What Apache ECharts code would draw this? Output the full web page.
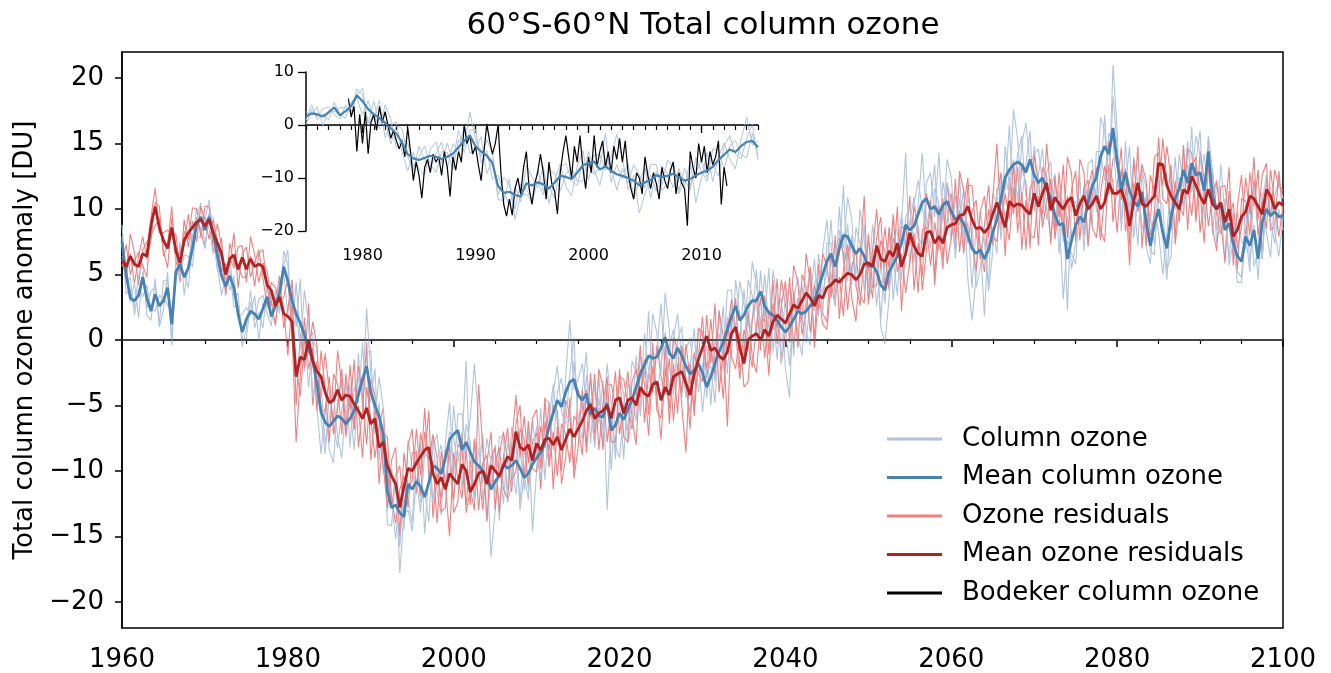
<!DOCTYPE html>
<html>
<head>
<meta charset="utf-8">
<title>60°S-60°N Total column ozone</title>
<script src="https://cdn.jsdelivr.net/npm/echarts@6/dist/echarts.min.js"></script>
<style>
  html, body { margin: 0; padding: 0; background: #fff; }
  #chart { width: 1331px; height: 673px; }
</style>
</head>
<body>
<div id="chart"></div>
<script>
// half-yearly values, 1960.0 ... 2100.0
const startYear = 1960;
const step = 0.5;

const meanColumnOzone = [
  7.5, 5.0, 3.2, 3.0, 3.4, 4.8, 3.2, 2.2, 3.5, 2.6,
  3.0, 4.0, 1.2, 5.2, 5.8, 4.8, 5.5, 7.0, 8.8, 9.4,
  8.4, 9.4, 8.2, 6.5, 4.9, 4.1, 4.9, 4.0, 2.0, 0.6,
  1.6, 2.2, 2.0, 1.6, 2.4, 3.3, 1.8, 2.6, 3.6, 5.6,
  4.5, 3.0, 2.0, 1.3, 0.4, -0.6, -1.6, -3.3, -5.5, -6.3,
  -6.6, -6.2, -5.8, -6.0, -6.4, -6.0, -5.4, -4.2, -3.0, -2.0,
  -4.0, -5.0, -5.8, -7.2, -11.5, -12.8, -12.6, -13.2, -13.5, -11.0,
  -11.4, -10.8, -11.2, -12.0, -10.9, -9.6, -9.8, -10.2, -9.0, -7.6,
  -7.2, -6.9, -8.4, -7.8, -8.6, -9.3, -9.6, -10.0, -10.5, -11.4,
  -10.8, -10.4, -9.5, -9.8, -9.6, -9.2, -9.8, -10.5, -10.2, -9.5,
  -9.0, -8.6, -7.9, -6.6, -5.6, -4.6, -5.1, -4.0, -3.2, -3.0,
  -4.2, -4.6, -4.1, -5.7, -5.2, -5.8, -5.9, -4.8, -6.9, -6.5,
  -5.6, -6.1, -5.3, -4.6, -3.6, -2.6, -1.9, -1.2, -1.4, -1.3,
  -0.6, 0.2, -1.0, -1.4, -0.6, -1.2, -2.0, -2.6, -2.3, -1.8,
  -2.5, -3.6, -2.8, -1.8, -0.9, -0.2, 0.8, 1.8, 2.6, 1.5,
  1.9, 2.6, 3.0, 3.0, 3.7, 2.6, 2.1, 1.9, 1.5, 1.0,
  0.6, 1.0, 1.6, 2.2, 2.0, 2.2, 2.6, 3.0, 4.0, 5.0,
  6.0, 6.6, 5.6, 7.0, 8.0, 7.9, 7.2, 6.6, 7.0, 6.4,
  5.6, 5.8, 5.2, 4.2, 3.8, 5.2, 5.8, 6.4, 7.4, 8.8,
  8.4, 8.7, 9.6, 10.5, 10.8, 10.0, 10.2, 9.6, 10.3, 10.6,
  9.8, 9.2, 9.4, 8.9, 8.0, 7.0, 6.6, 6.9, 6.2, 6.9,
  8.2, 9.2, 10.8, 12.4, 13.0, 13.4, 13.6, 13.4, 12.8, 13.8,
  12.6, 12.0, 12.4, 11.6, 10.8, 9.5, 8.8, 8.9, 6.2, 7.6,
  8.8, 9.4, 9.0, 10.5, 11.8, 12.4, 14.0, 14.8, 14.2, 16.2,
  13.6, 11.5, 12.8, 11.4, 10.6, 10.2, 11.3, 9.0, 7.2, 8.9,
  10.0, 8.2, 7.0, 9.4, 10.8, 11.6, 13.0, 12.0, 13.5, 12.6,
  12.8, 11.4, 14.4, 11.0, 10.0, 10.4, 8.4, 8.9, 7.4, 6.4,
  6.0, 7.9, 7.2, 8.4, 6.2, 9.0, 10.0, 9.5, 9.8, 9.4,
  9.5
];

const columnOzone1 = [
  8.8, 4.3, 4.8, 1.9, 3.9, 3.3, 4.2, 2.4, 2.2, 3.4,
  3.2, 2.7, 2.0, 4.7, 7.5, 3.4, 5.8, 8.1, 7.9, 7.8,
  9.5, 8.5, 6.6, 7.1, 6.3, 3.7, 6.2, 3.3, 3.6, -0.5,
  0.9, 3.8, 0.9, 2.1, 0.9, 4.3, 2.0, 1.3, 4.4, 5.1,
  1.9, 4.6, 1.0, 4.7, -2.4, 0.0, 0.6, -5.1, -8.7, -5.1,
  -8.4, -9.4, -4.6, -3.2, -7.2, -3.4, -6.8, -1.0, -5.2, -1.0,
  -0.8, -7.2, -4.8, -10.2, -9.5, -12.4, -15.2, -11.6, -14.5, -7.6,
  -9.8, -11.8, -7.8, -14.8, -10.3, -7.4, -11.6, -13.4, -7.8, -4.8,
  -10.4, -5.7, -5.6, -8.6, -6.0, -1.8, -6.4, -12.2, -9.5, -16.6,
  -13.0, -9.4, -12.5, -7.8, -9.2, -11.8, -8.2, -11.5, -6.8, -14.6,
  -10.0, -5.2, -10.7, -6.0, -3.4, -6.4, -8.3, -2.8, 1.5, -3.8,
  -3.0, -1.8, -4.9, -3.1, -6.6, -2.6, -8.1, -3.8, -9.9, -4.5,
  -4.6, -9.1, -3.3, -4.2, -6.2, -1.0, -2.9, 2.2, -4.2, -0.7,
  2.8, -2.6, -0.4, 0.8, -2.4, -4.4, -0.8, 0.2, -3.1, 0.8,
  0.3, -4.4, -0.2, -3.2, 2.3, -2.4, 1.8, -1.2, 4.6, 1.9,
  -1.1, 4.6, 3.4, 0.4, 5.3, 1.6, 5.5, -0.9, 2.1, 3.2,
  -2.2, -4.4, 3.8, 0.4, -1.2, 3.4, 5.4, 2.2, 6.6, 3.6,
  5.2, 9.2, 4.2, 10.2, 5.8, 8.9, 4.2, 8.6, 7.4, 3.8,
  7.6, 6.2, 2.6, 5.8, 2.8, 8.6, 3.0, 7.0, 9.6, 7.0,
  9.0, 10.9, 7.8, 7.3, 12.0, 12.8, 9.4, 14.3, 8.9, 13.8,
  12.4, 7.8, 12.6, 6.7, 9.0, 4.0, 8.6, 7.3, 1.8, 8.5,
  8.6, 6.6, 12.4, 11.4, 16.4, 10.6, 14.2, 15.6, 11.0, 10.6,
  14.8, 10.2, 9.2, 12.8, 13.6, 8.7, 11.4, 7.5, 9.4, 5.4,
  7.4, 12.6, 6.8, 11.5, 8.8, 14.4, 14.4, 12.2, 15.8, 15.2,
  11.0, 13.1, 11.8, 14.8, 7.8, 10.8, 13.5, 7.2, 5.8, 10.1,
  8.2, 5.0, 8.2, 12.2, 10.0, 14.2, 11.6, 15.2, 11.3, 13.6,
  16.0, 9.2, 15.4, 8.0, 12.0, 10.8, 5.8, 10.5, 6.4, 9.8,
  7.6, 6.9, 10.6, 5.6, 6.8, 11.2, 8.2, 6.3, 11.0, 12.2,
  10.8
];

const columnOzone2 = [
  6.4, 5.9, 2.9, 4.4, 1.7, 5.2, 2.4, 3.7, 4.1, 1.3,
  4.5, 4.6, -0.1, 6.4, 5.2, 5.0, 4.0, 7.8, 10.1, 9.2,
  9.2, 10.7, 8.0, 5.3, 5.2, 5.7, 3.8, 4.9, 1.7, 2.0,
  2.5, 1.9, 3.4, -0.1, 2.8, 2.5, 3.3, 3.2, 2.3, 6.8,
  5.7, 0.4, 4.4, 0.1, 0.8, -3.6, 0.0, -0.7, -5.9, -8.7,
  -4.0, -6.6, -8.2, -5.4, -3.2, -8.2, -3.6, -4.8, -0.2, -5.4,
  -4.6, -2.2, -9.2, -6.4, -13.1, -9.8, -11.4, -15.8, -11.1, -12.2,
  -14.0, -8.4, -12.4, -11.6, -13.9, -8.0, -7.2, -10.6, -11.4, -7.0,
  -7.6, -9.3, -7.8, -1.6, -10.8, -7.5, -10.2, -7.2, -13.9, -10.6,
  -8.0, -13.8, -8.7, -11.4, -6.6, -8.0, -12.4, -8.1, -11.4, -9.1,
  -6.6, -9.8, -7.5, -9.6, -4.0, -2.0, -5.5, -6.4, -2.6, 0.2,
  -6.6, -4.0, -0.9, -7.9, -3.4, -6.4, -3.1, -13.0, -6.1, -8.1,
  -9.0, -5.3, -6.9, -1.6, -2.4, -5.2, 0.5, -2.4, -1.0, -4.3,
  -1.8, 0.6, -4.0, 0.2, 2.0, -1.6, -4.4, -2.0, 0.9, -4.0,
  -1.9, -0.4, -5.0, 0.0, -1.5, 2.6, -2.6, 2.6, 1.0, 4.5,
  2.7, 1.0, 6.0, 4.2, 1.1, 5.0, 0.9, 2.3, -1.5, 2.6,
  1.0, -2.0, 3.2, 4.8, 1.6, -0.2, 3.2, 6.2, 1.8, 6.8,
  9.2, 4.4, 7.4, 6.4, 11.8, 4.5, 8.0, 5.0, 10.0, 7.6,
  4.0, 8.8, 6.4, 1.6, 6.2, 4.0, 6.2, 3.4, 9.0, 14.3,
  5.4, 10.3, 12.2, 10.1, 8.4, 10.6, 13.4, 7.4, 12.1, 10.0,
  7.6, 11.0, 8.8, 11.7, 4.6, 1.5, 5.0, 9.9, 7.4, 4.3,
  11.2, 10.4, 8.2, 14.8, 11.8, 13.8, 10.6, 15.0, 16.6, 13.4,
  14.2, 14.6, 12.0, 9.2, 11.4, 12.7, 6.6, 10.7, 2.3, 10.4,
  10.6, 8.8, 11.8, 7.1, 12.6, 10.8, 17.0, 16.0, 11.6, 18.6,
  14.8, 8.9, 15.2, 10.2, 11.0, 7.2, 12.9, 11.6, 6.8, 6.5,
  12.6, 7.8, 4.6, 10.0, 14.0, 9.4, 14.8, 11.4, 16.3, 9.2,
  12.2, 14.2, 11.0, 11.8, 8.4, 13.4, 9.6, 6.3, 9.8, 5.2,
  4.8, 10.3, 6.0, 8.8, 4.6, 10.6, 12.6, 9.1, 7.4, 10.0,
  8.4
];

const columnOzone3 = [
  7.9, 3.5, 3.9, 2.5, 4.9, 5.8, 1.9, 1.5, 4.7, 1.0,
  2.3, 5.2, -0.4, 5.3, 4.8, 6.5, 6.4, 5.6, 9.1, 10.5,
  7.0, 9.7, 9.3, 5.7, 3.4, 4.8, 5.3, 2.5, 2.7, 0.1,
  0.1, 2.9, 1.5, 3.1, 3.4, 2.0, 1.1, 3.8, 2.0, 5.7,
  6.9, -0.2, 2.2, -0.7, 3.8, 1.2, -4.4, -2.7, -3.3, -7.9,
  -6.0, -4.0, -7.4, -9.0, -5.0, -5.2, -8.4, -2.8, -4.0, 2.4,
  -2.6, -6.0, -2.8, -5.2, -14.1, -14.2, -10.2, -17.8, -13.3, -13.0,
  -14.6, -10.6, -13.2, -8.6, -9.1, -12.4, -9.2, -8.0, -10.6, -10.6,
  -5.0, -8.5, -11.4, -6.4, -7.8, -12.3, -8.2, -11.0, -7.5, -9.4,
  -11.8, -7.4, -7.5, -12.4, -11.0, -6.8, -13.0, -10.3, -12.2, -6.1,
  -8.8, -10.6, -4.5, -4.8, -8.4, -4.0, -2.9, -5.6, -6.2, -1.6,
  -5.8, -7.6, -2.7, -4.9, -8.2, -4.4, -6.9, -1.8, -4.9, -9.1,
  -2.6, -4.1, -7.9, -6.0, -1.2, -5.8, -1.7, -3.2, 2.0, 0.5,
  -2.6, 3.6, 0.8, -4.2, 0.0, 1.0, -3.6, -5.6, -0.9, -1.0,
  -5.5, -2.2, -2.0, -4.8, 0.5, -1.2, 3.8, 3.8, 0.0, 0.1,
  3.9, 0.0, 1.6, 5.4, 0.5, 2.8, 0.1, 5.3, 3.3, -1.8,
  4.0, 2.8, -1.2, 2.8, 4.2, 0.6, -0.4, 4.4, 4.8, 2.0,
  7.4, 7.4, 2.6, 8.4, 7.0, 10.9, 9.2, 4.0, 5.6, 8.8,
  3.0, 4.4, 7.6, 1.0, -0.3, 3.2, 9.2, 8.2, 4.6, 9.4,
  10.2, 5.9, 10.2, 14.3, 9.2, 7.0, 11.6, 10.4, 7.3, 12.0,
  10.6, 6.2, 10.8, 7.9, 11.0, 9.0, 4.0, 5.5, 8.6, 3.7,
  6.8, 11.6, 7.6, 12.6, 11.0, 17.6, 15.4, 10.6, 13.4, 16.0,
  9.8, 12.6, 14.6, 10.0, 7.8, 10.9, 9.6, 3.1, 7.6, 6.6,
  5.8, 10.8, 8.0, 13.5, 13.8, 9.8, 12.6, 17.2, 11.0, 21.0,
  16.0, 8.3, 13.0, 9.4, 14.0, 12.0, 8.5, 9.6, 9.4, 7.3,
  10.6, 10.4, 5.4, 6.4, 12.2, 12.4, 10.0, 13.4, 12.5, 15.6,
  14.2, 10.4, 15.6, 13.0, 7.4, 9.0, 10.8, 5.7, 7.6, 4.4,
  4.4, 8.1, 5.2, 11.8, 8.0, 6.2, 10.6, 11.7, 8.2, 6.4,
  9.4
];

const meanResiduals = [
  6.1, 5.6, 6.4, 5.8, 5.6, 6.6, 6.4, 8.8, 10.2, 8.6,
  7.6, 7.0, 8.6, 6.8, 5.9, 7.6, 8.2, 8.6, 9.0, 9.2,
  8.7, 9.2, 8.2, 7.4, 6.6, 5.0, 6.2, 6.5, 5.4, 6.3,
  5.4, 6.2, 5.6, 5.8, 5.6, 4.2, 3.8, 2.6, 3.3, 2.0,
  1.8, 1.4, -2.8, -1.3, -1.5, 0.0, -1.6, -2.4, -2.8, -4.0,
  -4.8, -4.6, -3.8, -4.6, -4.2, -4.3, -4.9, -5.4, -6.0, -5.2,
  -6.4, -6.0, -8.2, -7.8, -9.6, -10.4, -11.0, -12.8, -11.2, -9.8,
  -10.0, -9.4, -8.9, -8.4, -8.2, -10.2, -11.0, -10.5, -11.4, -10.2,
  -10.6, -11.0, -9.5, -10.0, -11.6, -11.0, -10.2, -10.0, -11.0, -9.6,
  -10.0, -10.4, -9.6, -8.9, -9.2, -7.0, -8.2, -8.4, -8.0, -9.2,
  -7.9, -8.4, -7.6, -7.5, -8.0, -7.4, -8.4, -7.6, -6.8, -7.4,
  -6.8, -6.2, -5.4, -4.9, -6.0, -5.6, -5.4, -5.0, -6.0, -4.6,
  -4.4, -5.6, -4.6, -4.4, -5.0, -3.6, -4.1, -4.3, -3.4, -3.2,
  -4.6, -3.6, -4.2, -2.8, -2.6, -2.4, -3.3, -4.2, -2.6, -1.5,
  -0.6, 0.3, -0.8, -0.6, -1.2, -1.5, -0.9, 0.5, 1.0, -0.6,
  -1.8, 0.0, 0.3, 0.5, 0.0, 0.8, 0.3, 1.4, 1.9, 1.6,
  1.3, 2.0, 2.7, 2.4, 3.0, 3.6, 3.2, 2.6, 3.4, 3.2,
  4.0, 4.2, 4.6, 4.4, 4.8, 5.1, 5.0, 4.6, 5.0, 5.8,
  5.9, 5.6, 7.2, 6.2, 6.0, 6.8, 6.4, 7.4, 5.6, 6.6,
  8.2, 7.2, 6.6, 6.4, 8.2, 8.3, 7.4, 7.9, 7.4, 8.6,
  8.8, 8.9, 9.5, 9.6, 10.2, 9.2, 8.5, 8.6, 8.2, 8.6,
  9.6, 10.5, 9.6, 8.6, 10.6, 10.2, 10.4, 10.3, 9.9, 9.6,
  11.2, 10.2, 11.2, 12.0, 9.9, 10.9, 10.4, 10.0, 10.6, 10.9,
  9.5, 10.4, 11.0, 10.0, 10.4, 11.0, 10.0, 10.5, 12.0, 11.2,
  11.2, 11.5, 10.5, 8.7, 10.6, 12.0, 10.4, 10.2, 10.6, 11.0,
  13.5, 13.4, 11.8, 11.0, 10.5, 10.0, 11.5, 11.2, 12.5, 11.8,
  11.0, 10.4, 11.5, 10.4, 10.0, 10.5, 9.0, 10.0, 7.9, 8.4,
  9.4, 9.8, 11.0, 10.8, 10.2, 9.6, 11.5, 11.0, 10.0, 10.5,
  10.3
];

const residuals1 = [
  7.3, 5.0, 6.6, 4.3, 6.4, 7.9, 6.2, 7.6, 10.5, 10.2,
  6.4, 7.3, 10.2, 5.7, 6.8, 7.3, 9.6, 6.9, 9.4, 8.4,
  7.0, 9.6, 7.4, 8.9, 7.2, 3.7, 7.4, 5.9, 5.6, 4.8,
  4.8, 6.4, 4.1, 6.6, 6.9, 4.0, 2.6, 2.9, 4.9, 0.9,
  2.4, 4.6, -5.0, 0.5, -2.1, 2.8, -5.0, -1.6, -4.4, -1.0,
  -4.0, -6.2, -0.8, -3.4, -6.8, -1.9, -6.1, -5.0, -9.0, -3.6,
  -6.0, -9.0, -6.6, -5.2, -10.0, -12.8, -10.4, -9.6, -13.4, -8.0,
  -6.8, -11.6, -7.1, -9.0, -5.4, -13.6, -10.2, -12.1, -8.4, -9.0,
  -12.2, -8.0, -8.3, -12.6, -9.2, -12.2, -9.8, -13.0, -9.4, -7.0,
  -13.0, -8.8, -7.0, -9.3, -11.6, -6.4, -5.0, -10.6, -6.2, -9.8,
  -10.1, -6.6, -8.2, -4.7, -11.4, -6.6, -10.0, -4.6, -5.6, -10.0,
  -3.8, -5.0, -8.0, -2.5, -7.2, -5.2, -8.4, -3.4, -3.4, -5.0,
  -2.8, -3.0, -5.0, -6.8, -4.4, -0.4, -6.3, -2.5, -4.0, -0.4,
  -2.8, -4.2, -1.4, -6.2, -1.8, -4.0, -0.3, -3.0, -5.2, 0.9,
  0.6, -2.3, 1.6, -1.8, -0.8, -4.5, 0.7, 3.1, 0.6, -3.0,
  0.8, -0.4, -2.1, 1.1, 3.2, -1.4, 2.1, 0.8, 4.7, -1.8,
  0.7, 4.8, -0.7, 3.2, 1.4, 6.6, 4.4, 0.0, 5.8, 2.0,
  1.4, 6.6, 3.4, 4.8, 1.8, 6.7, 7.6, 4.2, 2.6, 6.4,
  5.5, 3.2, 7.8, 9.4, 3.8, 8.6, 5.8, 10.2, 2.2, 7.4,
  11.0, 3.8, 7.4, 4.8, 11.2, 9.5, 4.8, 10.3, 6.2, 9.0,
  11.2, 7.7, 9.9, 6.6, 11.8, 11.8, 8.1, 6.2, 8.8, 11.8,
  7.2, 11.1, 12.8, 6.4, 12.4, 9.6, 13.2, 6.9, 10.7, 8.0,
  7.8, 11.0, 9.6, 15.0, 11.1, 8.3, 12.8, 8.8, 11.0, 7.9,
  8.3, 10.8, 8.0, 11.6, 13.0, 10.6, 7.6, 11.1, 15.2, 9.0,
  11.8, 14.7, 8.3, 10.5, 10.0, 14.8, 7.0, 11.0, 9.0, 14.0,
  14.3, 11.8, 14.8, 12.2, 7.9, 12.4, 10.3, 11.6, 9.5, 13.4,
  11.4, 7.4, 13.1, 13.0, 9.6, 8.1, 9.6, 13.2, 5.7, 10.2,
  12.6, 7.6, 12.8, 10.2, 13.0, 6.2, 12.3, 9.4, 13.0, 11.7,
  11.4
];

const residuals2 = [
  6.2, 4.6, 8.1, 6.7, 4.2, 6.9, 7.5, 8.0, 8.7, 9.3,
  6.8, 5.5, 9.3, 7.2, 4.4, 8.3, 7.7, 10.1, 10.0, 7.9,
  10.2, 10.2, 6.9, 6.7, 7.8, 3.4, 6.3, 5.5, 7.1, 7.2,
  4.4, 7.9, 6.5, 4.4, 5.9, 5.3, 3.0, 1.1, 4.0, 2.4,
  -1.2, 2.8, -2.0, -4.3, -0.1, -1.0, 1.4, -0.4, -5.4, -5.4,
  -2.8, -7.2, -5.2, -2.2, -7.4, -4.1, -6.9, -2.0, -4.2, -8.0,
  -3.0, -4.2, -11.0, -7.2, -7.4, -12.0, -14.0, -11.4, -10.4, -12.8,
  -8.6, -8.6, -11.9, -7.0, -9.2, -7.2, -9.0, -13.1, -12.8, -7.8,
  -13.2, -12.4, -7.1, -13.2, -11.4, -13.0, -3.4, -8.2, -13.8, -9.0,
  -8.2, -13.2, -9.0, -6.7, -10.8, -10.0, -6.8, -7.6, -11.0, -7.8,
  -7.1, -11.4, -6.2, -8.5, -5.0, -5.4, -11.0, -9.0, -4.4, -10.6,
  -8.2, -3.8, -8.6, -4.7, -8.0, -2.2, -3.6, -7.8, -5.4, -2.4,
  -7.2, -5.0, -2.4, -6.0, -8.0, -2.2, -3.3, -7.3, -2.0, -4.2,
  -7.6, -2.2, -5.2, 0.2, -0.6, -5.0, -8.6, -1.8, -5.8, -1.3,
  1.8, -2.9, -0.6, -2.6, 2.2, 0.3, -6.6, 1.1, 3.2, -2.2,
  -1.2, 2.2, -1.3, -2.5, 1.4, 1.6, -2.7, 2.8, 0.9, 4.6,
  2.7, 1.0, 5.7, 4.4, 0.4, 2.2, 5.6, -0.6, 3.6, 1.2,
  0.8, 4.4, 2.6, 7.8, 6.6, 2.3, 5.6, 6.8, 3.4, 2.8,
  8.1, 4.0, 4.2, 7.6, 6.8, 3.8, 7.8, 6.4, 8.6, 8.6,
  7.2, 10.2, 8.6, 3.8, 6.8, 10.7, 4.2, 8.1, 5.4, 12.0,
  9.0, 6.9, 12.9, 11.4, 7.4, 9.8, 10.7, 7.0, 5.2, 10.0,
  8.0, 7.5, 11.0, 9.4, 7.6, 11.6, 9.4, 13.3, 11.9, 7.0,
  14.2, 12.2, 8.6, 10.6, 12.3, 7.7, 10.6, 8.0, 14.0, 12.7,
  7.5, 13.8, 12.8, 7.2, 11.0, 13.2, 8.4, 7.5, 13.4, 12.0,
  8.2, 12.9, 11.3, 5.7, 12.0, 11.0, 13.4, 12.2, 8.0, 9.6,
  15.5, 10.8, 10.4, 13.4, 7.3, 10.2, 9.5, 14.6, 14.3, 9.0,
  14.4, 12.2, 8.7, 11.0, 12.2, 8.9, 6.0, 11.4, 8.7, 5.4,
  10.8, 10.6, 8.0, 12.2, 9.2, 12.6, 13.5, 8.4, 8.6, 12.9,
  9.4
];

const residuals3 = [
  5.6, 7.3, 5.0, 6.1, 6.7, 5.7, 4.8, 9.4, 11.6, 8.2,
  8.2, 8.4, 8.2, 8.1, 5.2, 9.2, 7.1, 9.1, 7.5, 10.2,
  9.2, 7.7, 9.2, 7.6, 5.3, 5.8, 5.7, 8.2, 4.0, 6.6,
  7.1, 4.8, 5.9, 6.9, 4.7, 2.6, 4.4, 4.0, 2.9, 3.3,
  4.6, 0.6, -7.8, -2.7, 1.7, -2.2, -0.6, -5.4, -0.8, -3.6,
  -7.8, -2.6, -3.4, -7.2, -2.6, -5.3, -1.5, -8.2, -5.4, -0.2,
  -9.2, -5.4, -6.0, -9.6, -12.8, -9.2, -8.2, -15.0, -8.6, -11.2,
  -10.8, -6.8, -10.3, -5.2, -10.4, -9.2, -14.0, -8.5, -11.0, -15.0,
  -8.6, -10.6, -12.1, -8.4, -12.6, -7.6, -13.0, -9.4, -8.8, -11.4,
  -9.4, -8.2, -11.4, -12.1, -8.0, -4.2, -9.0, -5.8, -9.4, -6.0,
  -5.3, -9.8, -4.4, -9.7, -7.0, -10.4, -6.4, -7.2, -9.4, -5.8,
  -6.4, -8.8, -3.8, -5.9, -2.6, -8.4, -4.8, -2.8, -7.8, -7.8,
  -2.2, -7.4, -7.8, -3.2, -2.2, -4.4, -1.5, -5.7, -0.2, -5.4,
  -6.0, -0.4, -6.4, -1.8, -5.6, -0.4, -2.9, -6.8, -1.0, -2.5,
  -3.2, 1.9, -1.8, 2.8, -4.0, -0.9, 1.3, -1.3, -2.2, 0.6,
  -3.6, -3.2, 1.5, 3.3, -0.8, 3.4, -1.1, 4.6, -0.3, 2.6,
  4.5, -0.2, 3.7, -0.6, 5.0, 4.0, 0.6, 4.2, 2.4, 6.6,
  5.6, 3.2, 8.0, 1.6, 5.4, 7.3, 3.2, 1.4, 6.2, 11.0,
  2.7, 6.8, 10.0, 5.4, 8.6, 5.4, 9.6, 5.2, 6.6, 3.6,
  6.0, 8.2, 3.6, 8.4, 8.6, 5.7, 9.0, 6.9, 10.8, 5.8,
  7.8, 12.3, 6.7, 10.2, 12.4, 7.4, 5.3, 9.8, 11.0, 7.8,
  10.8, 15.0, 8.8, 11.2, 9.2, 13.4, 8.2, 11.3, 6.9, 11.6,
  12.2, 7.2, 13.2, 12.4, 7.3, 12.5, 9.4, 13.4, 7.8, 11.5,
  12.9, 7.6, 11.6, 12.2, 8.6, 7.8, 11.2, 13.3, 11.2, 13.8,
  14.0, 10.7, 13.1, 7.3, 13.8, 9.8, 11.4, 7.2, 12.6, 11.4,
  10.5, 15.4, 12.2, 8.4, 12.1, 9.0, 14.9, 8.4, 13.1, 14.0,
  8.2, 11.0, 13.7, 8.6, 6.8, 11.7, 11.8, 9.2, 10.5, 7.0,
  8.6, 12.4, 9.6, 14.0, 8.0, 10.6, 8.5, 13.0, 10.4, 7.9,
  10.2
];

// quarterly values, 1978.75 ... 2012.25
const bodekerStart = 1978.75;
const bodekerStep = 0.25;
const bodeker = [
  5.0,
  1.5, 3.5, -5.0, 2.0,   -3.5, 2.5, -5.4, 0.5,   2.0, -1.0, 3.5, 0.5,
  2.5, 0.0, -2.5, -1.0,  -3.0, -4.5, -3.0, -6.0, -0.5, -5.0, -10.5, -7.0,
  -9.5, -13.8, -8.0, -6.5, -9.0, -5.5, -7.0, -6.0, -9.5, -5.0, -8.0, -13.5,
  -6.0, -8.5, -5.0, -7.0, 0.0, -3.5, -2.0, -5.5,  -4.0, -7.5, -10.5, -5.0,
  0.2, -3.0, -5.5, -3.5,  0.0, -9.0, -15.0, -17.2, -14.0, -17.0, -12.0, -10.0,
  -13.0, -8.0, -5.0, -12.0, -15.0, -11.0, -9.0, -5.5, -9.0, -14.0, -7.0, -11.0,
  -12.5, -16.8, -9.0, -5.0, -2.0, -6.0, -10.0, -4.0, -7.0, -2.0, -8.0, -12.0,
  -6.0, -9.0, -2.0, -8.0, -5.0, -3.0, -8.0, -5.0, -9.0, -4.0, -6.5, -2.5,
  -7.0, -3.0, -9.0, -12.0, -14.0, -9.0, -10.0, -13.0, -6.0, -9.5, -12.0, -9.0,
  -11.0, -14.0, -8.0, -10.5, -12.0, -8.5, -7.0, -13.0, -9.0, -11.0, -12.0, -19.0,
  -5.0, -8.0, -10.0, -3.5, -7.0, -4.0, -9.0, -5.0, -7.5, -6.0, -3.0, -15.0,
  -8.0, -11.5
];

const mainYTicks = [-20, -15, -10, -5, 0, 5, 10, 15, 20];
const insetYears = [1980, 1990, 2000, 2010];
const insetFrom = 1975;
const insetTo = 2015;

const pairs = (arr, x0, dx) => arr.map((v, i) => [x0 + i * dx, v]);
const insetPart = (arr) => pairs(arr, startYear, step).filter(p => p[0] >= insetFrom && p[0] <= insetTo);
const minus = (v) => (v < 0 ? '\u2212' + Math.abs(v) : String(v));
const plain = (v) => String(v);

const insetMinorTicks = [];
for (let y = insetFrom; y <= insetTo; y++) insetMinorTicks.push(y);

const font = 'DejaVu Sans';
const C_LIGHT_BLUE = '#b0c4de';
const C_BLUE = '#4682b4';
const C_LIGHT_RED = '#f08080';
const C_RED = '#b22222';

const line = (name, data, color, width, xi, yi, extra) => Object.assign({
  name: name,
  type: 'line',
  xAxisIndex: xi,
  yAxisIndex: yi,
  data: data,
  showSymbol: false,
  symbol: 'none',
  color: color,
  itemStyle: { color: color },
  lineStyle: { color: color, width: width },
  silent: true,
  animation: false
}, extra || {});

const zeroLine = (color, width) => ({
  silent: true,
  symbol: ['none', 'none'],
  label: { show: false },
  lineStyle: { color: color, width: width, type: 'solid' },
  data: [{ yAxis: 0 }]
});

// runs drawn in pairs, as the original plot interleaves them
const series = [
  line('Column ozone', pairs(columnOzone1, startYear, step), C_LIGHT_BLUE, 1.1, 0, 0),
  line('Ozone residuals', pairs(residuals1, startYear, step), C_LIGHT_RED, 1.1, 0, 0),
  line('Column ozone', pairs(columnOzone2, startYear, step), C_LIGHT_BLUE, 1.1, 0, 0),
  line('Ozone residuals', pairs(residuals2, startYear, step), C_LIGHT_RED, 1.1, 0, 0),
  line('Column ozone', pairs(columnOzone3, startYear, step), C_LIGHT_BLUE, 1.1, 0, 0),
  line('Ozone residuals', pairs(residuals3, startYear, step), C_LIGHT_RED, 1.1, 0, 0),
  line('Mean column ozone', pairs(meanColumnOzone, startYear, step), C_BLUE, 2.8, 0, 0),
  line('Mean ozone residuals', pairs(meanResiduals, startYear, step), C_RED, 2.8, 0, 0,
    { markLine: zeroLine('#444', 1.5) }),
  // inset
  line('Column ozone', insetPart(columnOzone1), C_LIGHT_BLUE, 1, 1, 1),
  line('Column ozone', insetPart(columnOzone2), C_LIGHT_BLUE, 1, 1, 1),
  line('Column ozone', insetPart(columnOzone3), C_LIGHT_BLUE, 1, 1, 1),
  line('Bodeker column ozone', pairs(bodeker, bodekerStart, bodekerStep), '#000', 1.2, 1, 1),
  line('Mean column ozone', insetPart(meanColumnOzone), C_BLUE, 2.2, 1, 1,
    { markLine: zeroLine('#333', 1) })
];

const chart = echarts.init(document.getElementById('chart'), null, { renderer: 'canvas' });

chart.setOption({
  backgroundColor: '#fff',
  animation: false,
  textStyle: { fontFamily: font },
  title: {
    text: '60°S-60°N Total column ozone',
    left: 703,
    top: 10,
    padding: 0,
    textAlign: 'center',
    textStyle: { fontFamily: font, fontSize: 31, fontWeight: 'normal', color: '#000' }
  },
  legend: {
    orient: 'vertical',
    left: 887,
    top: 426,
    padding: 0,
    icon: 'rect',
    itemWidth: 55,
    itemHeight: 3,
    itemGap: 12.5,
    selectedMode: false,
    data: ['Column ozone', 'Mean column ozone', 'Ozone residuals', 'Mean ozone residuals', 'Bodeker column ozone'],
    textStyle: { fontFamily: font, fontSize: 26, lineHeight: 26, color: '#000', padding: [0, 0, 0, 15] }
  },
  grid: [
    { left: 122, top: 52, width: 1161, height: 576, show: true, borderColor: '#000', borderWidth: 1.5, backgroundColor: 'transparent' },
    { left: 306, top: 72, width: 452, height: 159 },
    { left: 306, top: 72, width: 452, height: 159 }
  ],
  xAxis: [
    {
      type: 'value', gridIndex: 0, min: 1960, max: 2100, interval: 20,
      axisLine: { show: true, lineStyle: { color: '#000', width: 1.5 } },
      axisTick: { show: true, inside: false, length: 7, lineStyle: { color: '#000', width: 1.5 } },
      minorTick: { show: true, splitNumber: 4, length: 4, lineStyle: { color: '#000', width: 1.2 } },
      axisLabel: { fontFamily: font, fontSize: 26, color: '#000', margin: 19, formatter: plain },
      splitLine: { show: false }
    },
    {
      type: 'value', gridIndex: 1, min: insetFrom, max: insetTo,
      axisLine: { show: true, lineStyle: { color: '#000', width: 1.5 } },
      axisTick: { show: true, inside: false, length: 8, customValues: insetYears, lineStyle: { color: '#000', width: 1.3 } },
      axisLabel: { fontFamily: font, fontSize: 16, color: '#000', margin: 17, customValues: insetYears, formatter: plain },
      splitLine: { show: false }
    },
    {
      type: 'value', gridIndex: 2, min: insetFrom, max: insetTo,
      axisLine: { show: false },
      axisTick: { show: true, inside: false, length: 5, customValues: insetMinorTicks, lineStyle: { color: '#000', width: 1.2 } },
      axisLabel: { show: false },
      splitLine: { show: false }
    }
  ],
  yAxis: [
    {
      type: 'value', gridIndex: 0, min: -22, max: 22,
      axisLine: { show: true, lineStyle: { color: '#000', width: 1.5 } },
      axisTick: { show: true, inside: false, length: 7, customValues: mainYTicks, lineStyle: { color: '#000', width: 1.5 } },
      axisLabel: { fontFamily: font, fontSize: 26, color: '#000', margin: 18, customValues: mainYTicks, formatter: minus },
      splitLine: { show: false },
      name: 'Total column ozone anomaly [DU]',
      nameLocation: 'middle',
      nameRotate: 90,
      nameGap: 82,
      nameTextStyle: { fontFamily: font, fontSize: 26, color: '#000' }
    },
    {
      type: 'value', gridIndex: 1, min: -20, max: 10, interval: 10,
      axisLine: { show: true, lineStyle: { color: '#000', width: 1.5 } },
      axisTick: { show: true, inside: false, length: 8, lineStyle: { color: '#000', width: 1.3 } },
      axisLabel: { fontFamily: font, fontSize: 16, color: '#000', margin: 12, formatter: minus },
      splitLine: { show: false }
    },
    {
      type: 'value', gridIndex: 2, min: -20, max: 10, show: false
    }
  ],
  series: series
});
</script>
</body>
</html>
